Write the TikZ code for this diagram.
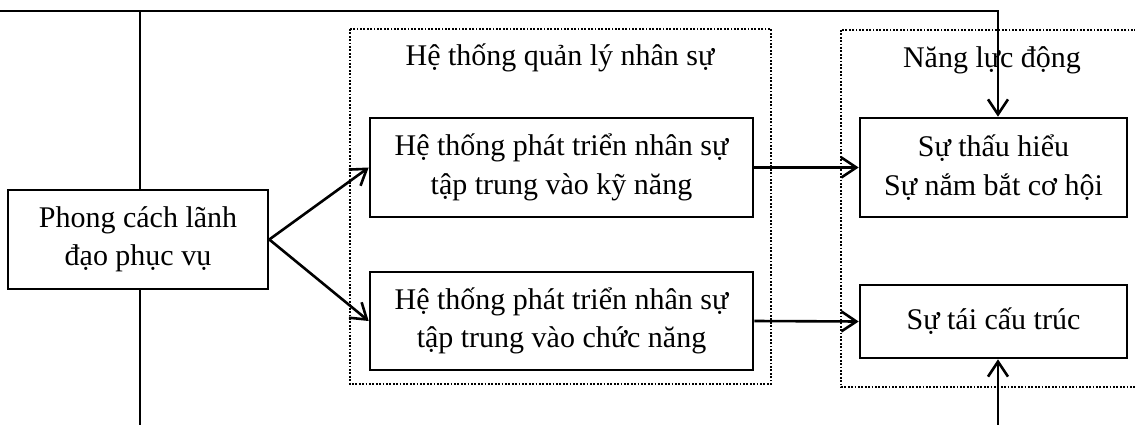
\documentclass[tikz,border=0pt]{standalone}
\usepackage{fontspec}
\setmainfont{Liberation Serif}
\usetikzlibrary{arrows.meta}
\begin{document}
\begin{tikzpicture}[x=1pt,y=-1pt,
  box/.style={draw,line width=2.6pt,inner sep=0pt,align=center,font=\fontsize{30}{38.5}\selectfont},
  grp/.style={line width=2pt,dash pattern=on 1.8pt off 1.6pt},
  ttl/.style={inner sep=0pt,font=\fontsize{30}{38.5}\selectfont},
  conn/.style={line width=2.6pt,-{Straight Barb[length=15pt,width=20pt,line width=2.6pt]}},
  plain/.style={line width=2.6pt}]
\useasboundingbox (0,0) rectangle (1135,425);
\clip (0,0) rectangle (1135,425);
\draw[grp] (350,29) rectangle (771,384);
\draw[grp] (841,30) rectangle (1145,387);
\node[ttl] (t1) at (560,58) {Hệ thống quản lý nhân sự};
\node[ttl] (t2) at (992,60) {Năng lực động};
\node[box,minimum width=260pt,minimum height=99pt] (L) at (138,239.5) {Phong cách lãnh\\đạo phục vụ};
\node[box,minimum width=383pt,minimum height=99pt] (A) at (561.5,167.5) {Hệ thống phát triển nhân sự\\tập trung vào kỹ năng};
\node[box,minimum width=383pt,minimum height=98pt] (B) at (561.5,321) {Hệ thống phát triển nhân sự\\tập trung vào chức năng};
\node[box,minimum width=267pt,minimum height=99pt] (C) at (993.5,167.5) {Sự thấu hiểu\\Sự nắm bắt cơ hội};
\node[box,minimum width=267pt,minimum height=73pt] (D) at (993.5,321.5) {Sự tái cấu trúc};
\coordinate (bl) at (140,430);
\coordinate (br) at (998,430);
\draw[conn] (L.east) -- (A.west);
\draw[conn] (L.east) -- (B.west);
\draw[conn] (A.east) -- (C.west);
\draw[conn] (B.east) -- (D.west);
\draw[conn] ([xshift=2pt]L.north) |- (0,11) -| ([xshift=4.5pt]C.north);
\draw[plain] ([xshift=2pt]L.south) -- (bl);
\draw[conn] (br) -- ([xshift=4.5pt]D.south);
\end{tikzpicture}
\end{document}
